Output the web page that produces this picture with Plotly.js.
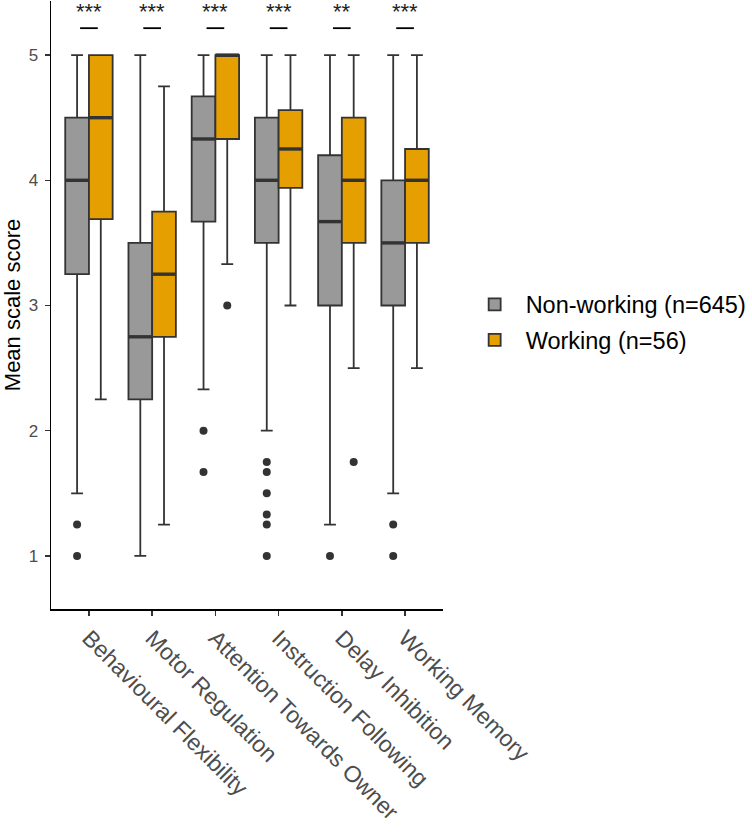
<!DOCTYPE html>
<html>
<head>
<meta charset="utf-8">
<script src="https://cdn.plot.ly/plotly-3.0.1.min.js"></script>
<style>html,body{margin:0;padding:0;background:#fff;}#chart{width:752px;height:832px;}</style>
</head>
<body>
<div id="chart"></div>
<script>
var categories = ["Behavioural Flexibility", "Motor Regulation", "Attention Towards Owner", "Instruction Following", "Delay Inhibition", "Working Memory"];

// Non-working (n=645)
var nwLower  = [1.5, 1.0, 2.33, 2.0, 1.25, 1.5];
var nwQ1     = [3.25, 2.25, 3.67, 3.5, 3.0, 3.0];
var nwMedian = [4.0, 2.75, 4.33, 4.0, 3.67, 3.5];
var nwQ3     = [4.5, 3.5, 4.67, 4.5, 4.2, 4.0];
var nwUpper  = [5, 5, 5, 5, 5, 5];
var nwOutliers = [[1.25, 1.0], [], [2.0, 1.67], [1.75, 1.67, 1.5, 1.33, 1.25, 1.0], [1.0], [1.25, 1.0]];

// Working (n=56)
var wLower  = [2.25, 1.25, 3.33, 3.0, 2.5, 2.5];
var wQ1     = [3.69, 2.75, 4.33, 3.94, 3.5, 3.5];
var wMedian = [4.5, 3.25, 5.0, 4.25, 4.0, 4.0];
var wQ3     = [5.0, 3.75, 5.0, 4.56, 4.5, 4.25];
var wUpper  = [5, 4.75, 5, 5, 5, 5];
var wOutliers = [[], [], [3.0], [], [1.75], []];

var sigLabels = ["***", "***", "***", "***", "**", "***"];
var sigTextY = 5.345;
var sigBarY = 5.215;

// empty rows become [null] so Plotly reads the sample as 2-D (nothing is drawn for null)
function samples(rows) { return rows.map(function (r) { return r.length ? r : [null]; }); }

var boxLine = {color: "#333333", width: 1.8};
var pointMarker = {color: "#333333", size: 8, line: {width: 0}};
var boxGap = 0.25;
var halfGroup = (1 - boxGap) / 2;

var traces = [
  {
    type: "box", name: "Non-working (n=645)", legendgroup: "nw",
    x: categories, y: samples(nwOutliers),
    q1: nwQ1, median: nwMedian, q3: nwQ3, lowerfence: nwLower, upperfence: nwUpper,
    boxpoints: "outliers", pointpos: 0, jitter: 0,
    fillcolor: "#999999", line: boxLine, marker: pointMarker, hoverinfo: "skip"
  },
  {
    type: "box", name: "Working (n=56)", legendgroup: "w",
    x: categories, y: samples(wOutliers),
    q1: wQ1, median: wMedian, q3: wQ3, lowerfence: wLower, upperfence: wUpper,
    boxpoints: "outliers", pointpos: 0, jitter: 0,
    fillcolor: "#E69F00", line: boxLine, marker: pointMarker, hoverinfo: "skip"
  }
];

var shapes = [];
var annotations = [];
for (var i = 0; i < categories.length; i++) {
  // thicker median lines (ggplot style)
  shapes.push({type: "line", xref: "x", yref: "y", x0: i - halfGroup, x1: i, y0: nwMedian[i], y1: nwMedian[i],
               line: {color: "#333333", width: 3.4}});
  shapes.push({type: "line", xref: "x", yref: "y", x0: i, x1: i + halfGroup, y0: wMedian[i], y1: wMedian[i],
               line: {color: "#333333", width: 3.4}});
  // significance bars and stars
  shapes.push({type: "line", xref: "x", yref: "y", x0: i - 0.14, x1: i + 0.14, y0: sigBarY, y1: sigBarY,
               line: {color: "#000000", width: 1.8}});
  annotations.push({xref: "x", yref: "y", x: categories[i], y: sigTextY, text: sigLabels[i], showarrow: false,
                    font: {family: "Liberation Sans, Arial, sans-serif", size: 22, color: "#222222"}});
}

var layout = {
  width: 752, height: 832,
  margin: {l: 51, r: 308, t: 1, b: 223},
  paper_bgcolor: "#ffffff", plot_bgcolor: "#ffffff",
  font: {family: "Liberation Sans, Arial, sans-serif", color: "#000000"},
  boxmode: "group", boxgap: boxGap, boxgroupgap: 0,
  showlegend: true,
  legend: {x: 1.05, xanchor: "left", y: 0.537, yanchor: "top", font: {size: 23.5, color: "#000000"},
           itemwidth: 52, tracegroupgap: 2, bgcolor: "rgba(0,0,0,0)"},
  xaxis: {
    type: "category", range: [-0.6, 5.6], showgrid: false, zeroline: false,
    showline: true, linecolor: "#000000", linewidth: 1.5,
    ticks: "outside", ticklen: 5, tickwidth: 1.5, tickcolor: "#333333",
    tickangle: 45, tickfont: {size: 23, color: "#4d4d4d"}, automargin: false
  },
  yaxis: {
    range: [0.576, 5.432], showgrid: false, zeroline: false,
    showline: true, linecolor: "#000000", linewidth: 1.5,
    ticks: "outside", ticklen: 5, tickwidth: 1.5, tickcolor: "#333333",
    tickvals: [1, 2, 3, 4, 5], ticktext: ["1", "2", "3", "4", "5"],
    tickfont: {size: 17, color: "#4d4d4d"}, ticklabelstandoff: 3, automargin: false,
    title: {text: "Mean scale score", font: {size: 22, color: "#000000"}, standoff: 2}
  },
  shapes: shapes,
  annotations: annotations
};

Plotly.newPlot("chart", traces, layout, {displayModeBar: false, staticPlot: true});
</script>
</body>
</html>
